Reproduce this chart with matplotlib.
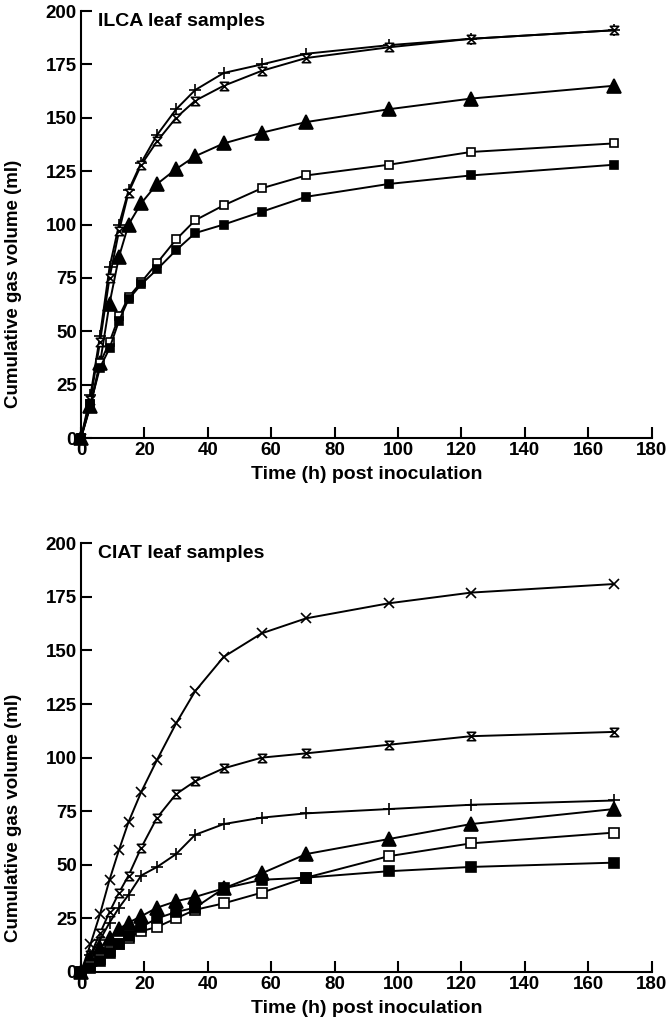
import matplotlib.pyplot as plt
from matplotlib.path import Path

# Tempi di campionamento (h)
hours = [0, 3, 6, 9, 12, 15, 19, 24, 30, 36, 45, 57, 71, 97, 123, 168]

# ILCA leaf samples
ilca_plus = [0, 20, 48, 80, 100, 116, 129, 142, 154, 163, 171, 175, 180, 184, 187, 191]
ilca_hourglass = [0, 18, 45, 75, 97, 115, 128, 139, 150, 158, 165, 172, 178, 183, 187, 191]
ilca_tri = [0, 15, 35, 63, 85, 100, 110, 119, 126, 132, 138, 143, 148, 154, 159, 165]
ilca_open_sq = [0, 16, 35, 45, 57, 66, 73, 82, 93, 102, 109, 117, 123, 128, 134, 138]
ilca_filled_sq = [0, 16, 33, 42, 55, 65, 72, 79, 88, 96, 100, 106, 113, 119, 123, 128]

# CIAT leaf samples
ciat_x = [0, 13, 27, 43, 57, 70, 84, 99, 116, 131, 147, 158, 165, 172, 177, 181]
ciat_hourglass = [0, 8, 18, 28, 37, 45, 58, 72, 83, 89, 95, 100, 102, 106, 110, 112]
ciat_plus = [0, 8, 15, 23, 30, 36, 45, 49, 55, 64, 69, 72, 74, 76, 78, 80]
ciat_tri = [0, 6, 11, 16, 20, 23, 26, 30, 33, 35, 39, 46, 55, 62, 69, 76]
ciat_open_sq = [0, 3, 6, 10, 13, 16, 19, 21, 25, 29, 32, 37, 44, 54, 60, 65]
ciat_filled_sq = [0, 2, 5, 9, 13, 17, 21, 25, 28, 30, 39, 43, 44, 47, 49, 51]

# Marker a clessidra
hourglass = Path([(-1, 1), (1, 1), (-1, -1), (1, -1), (-1, 1)],
                 [Path.MOVETO, Path.LINETO, Path.LINETO, Path.LINETO, Path.CLOSEPOLY])

plt.rcParams['font.family'] = ['Liberation Sans', 'DejaVu Sans']
plt.rcParams['font.weight'] = 'bold'

fig = plt.figure(figsize=(6.66, 10.23), dpi=100)
ax1 = fig.add_axes([0.1216, 0.5718, 0.857, 0.4174])
ax2 = fig.add_axes([0.1216, 0.0499, 0.857, 0.419])


def draw_series(ax, y, marker, face, size):
    ax.plot(hours, y, color='black', lw=1.4, marker=marker, markersize=size,
            markerfacecolor=face, markeredgecolor='black', markeredgewidth=1.2,
            clip_on=False)


draw_series(ax1, ilca_plus, '+', 'black', 9)
draw_series(ax1, ilca_hourglass, hourglass, 'white', 6)
draw_series(ax1, ilca_tri, '^', 'black', 10)
draw_series(ax1, ilca_open_sq, 's', 'white', 6)
draw_series(ax1, ilca_filled_sq, 's', 'black', 6)

draw_series(ax2, ciat_x, 'x', 'black', 7.5)
draw_series(ax2, ciat_hourglass, hourglass, 'white', 6)
draw_series(ax2, ciat_plus, '+', 'black', 8)
draw_series(ax2, ciat_tri, '^', 'black', 10)
draw_series(ax2, ciat_open_sq, 's', 'white', 7)
draw_series(ax2, ciat_filled_sq, 's', 'black', 7)

for ax, title in [(ax1, 'ILCA leaf samples'), (ax2, 'CIAT leaf samples')]:
    ax.set_xlim(0, 180)
    ax.set_ylim(0, 200)
    ax.set_xticks(range(0, 181, 20))
    ax.set_yticks(range(0, 201, 25))
    ax.spines['top'].set_visible(False)
    ax.spines['right'].set_visible(False)
    ax.spines['left'].set_linewidth(1.5)
    ax.spines['bottom'].set_linewidth(1.5)
    ax.tick_params(direction='in', length=8, width=1.5, labelsize=13.5, pad=3)
    ax.set_xlabel('Time (h) post inoculation', fontsize=14, fontweight='bold', labelpad=5)
    ax.set_ylabel('Cumulative gas volume (ml)', fontsize=13.5, fontweight='bold')
    # l'etichetta y nel riferimento e' spostata verso il basso
    ax.yaxis.set_label_coords(-0.103, 0.36)
    ax.text(0.03, 0.995, title, transform=ax.transAxes, fontsize=14,
            fontweight='bold', va='top', ha='left')

fig.savefig('out.png', dpi=100)
